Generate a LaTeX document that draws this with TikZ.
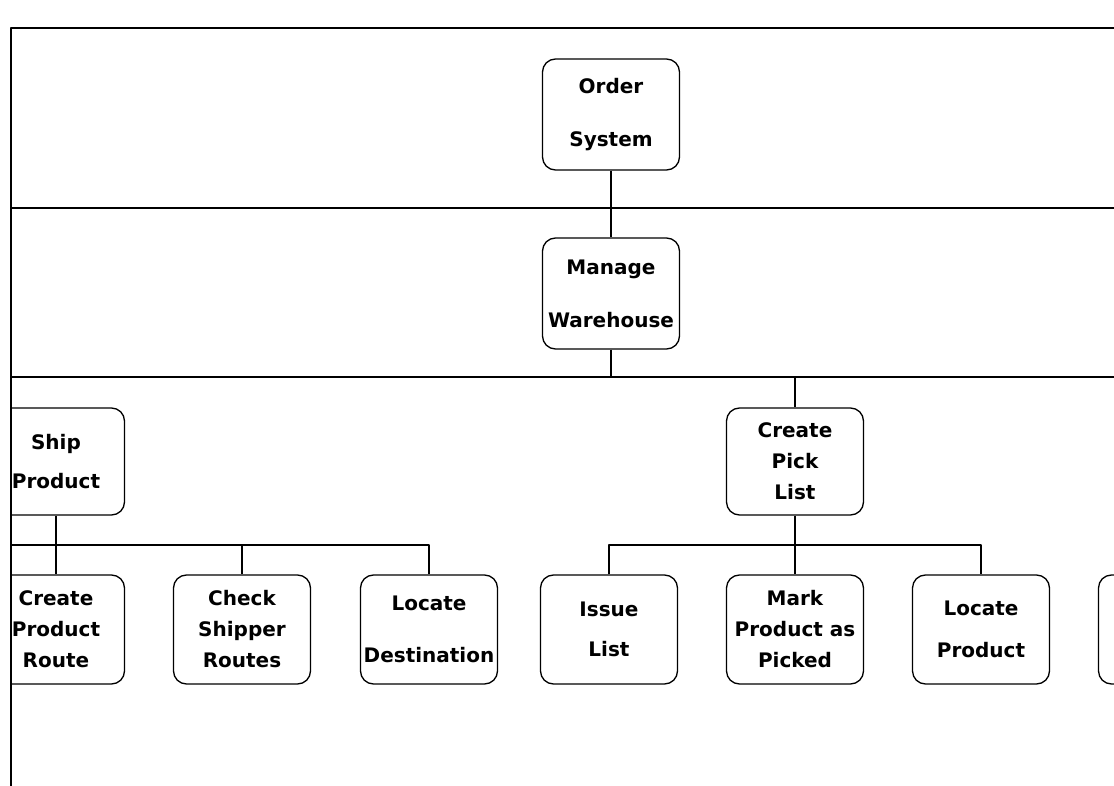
\documentclass[tikz,border=0pt]{standalone}
\usepackage{fontspec}
\setmainfont{DejaVu Sans}
\begin{document}
\begin{tikzpicture}[x=1pt,y=-1pt,line join=round,
	task/.style={draw,line width=1.3pt,rounded corners=13pt,minimum width=137pt,minimum height=109pt,inner sep=0pt,align=center,font=\bfseries\fontsize{20}{31}\selectfont},
	frame/.style={line width=1.6pt},
	link/.style={line width=1.3pt}]
	\useasboundingbox (0,0) rectangle (1114,786);
	\clip (0,0) rectangle (1114,786);
	% frame and level bands
	\draw[frame] (1114,28) -- (11,28) -- (11,786);
	\coordinate (top) at (11,208);
	\coordinate (band) at (11,377);
	\draw[frame] (top) -- (1114,208) (band) -- (1114,377);
	% tasks
	\node[task,minimum height=111pt] (order) at (611,114.5) {Order\\[22pt]System};
	\node[task,minimum height=111pt] (manage) at (611,293.5) {Manage\\[22pt]Warehouse};
	\begin{scope}
		\clip (11,0) rectangle (1114,786);
		\node[task,minimum height=107pt] (ship) at (56,461.5) {Ship\\[8pt]Product};
		\node[task] (route) at (56,629.5) {Create\\Product\\Route};
	\end{scope}
	\node[task] (shipper) at (242,629.5) {Check\\Shipper\\Routes};
	\node[task] (dest) at (429,629.5) {Locate\\[21pt]Destination};
	\node[task,minimum height=107pt] (pick) at (795,461.5) {Create\\Pick\\List};
	\node[task] (issue) at (609,629.5) {Issue\\[9pt]List};
	\node[task] (mark) at (795,629.5) {Mark\\Product as\\Picked};
	\node[task] (locprod) at (981,629.5) {Locate\\[11pt]Product};
	\node[task] (more) at (1167,629.5) {};
	% connectors
	\coordinate (shipbus) at (11,545);
	\coordinate (pickbus) at (609,545);
	\draw[link] (order.south) -- (manage.north);
	\draw[link] (manage.south) -- (manage.south |- band);
	\draw[link] (pick.north |- band) -- (pick.north);
	\draw[link] (ship.south) -- (ship.south |- shipbus);
	\draw[link] (shipbus) -- (dest.north |- shipbus) -- (dest.north);
	\draw[link] (route.north |- shipbus) -- (route.north);
	\draw[link] (shipper.north |- shipbus) -- (shipper.north);
	\draw[link] (pick.south) -- (mark.north);
	\draw[link] (issue.north) -- (issue.north |- pickbus) -- (locprod.north |- pickbus) -- (locprod.north);
\end{tikzpicture}
\end{document}
